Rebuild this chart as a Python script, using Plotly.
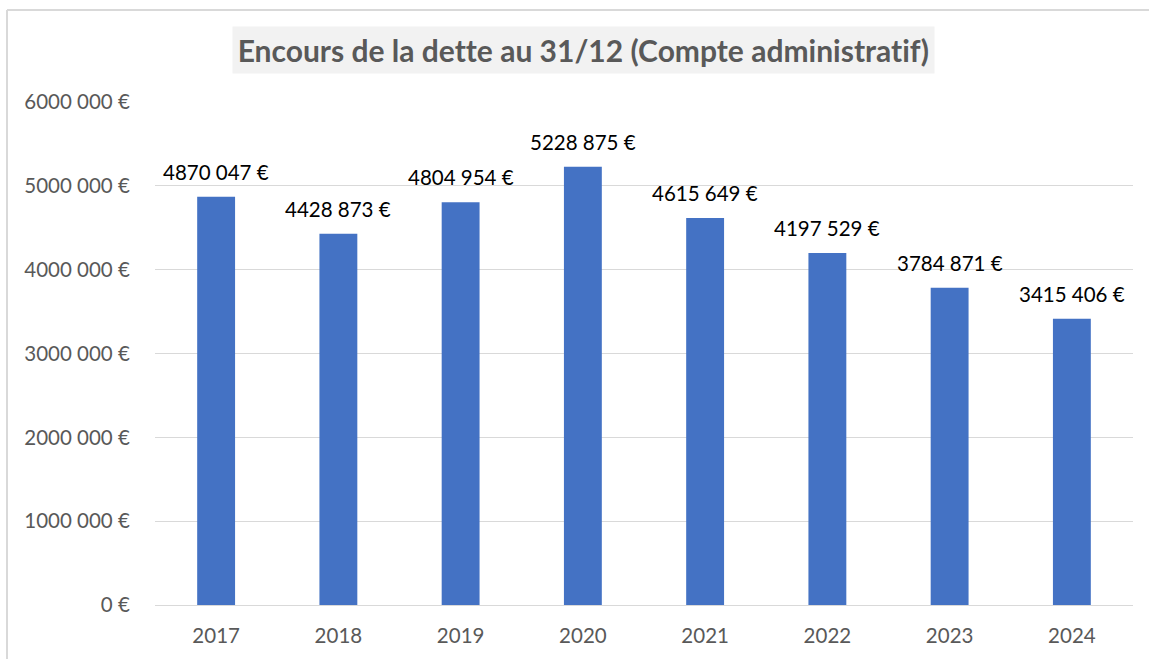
import plotly.graph_objects as go

years = ["2017", "2018", "2019", "2020", "2021", "2022", "2023", "2024"]
debt = [4870047, 4428873, 4804954, 5228875, 4615649, 4197529, 3784871, 3415406]
y_ticks = [0, 1000000, 2000000, 3000000, 4000000, 5000000, 6000000]
y_tick_labels = ["0 €", "1000 000 €", "2000 000 €", "3000 000 €", "4000 000 €", "5000 000 €", "6000 000 €"]
title_text = "Encours de la dette au 31/12 (Compte administratif)"


def fmt(v):
    if v >= 1000:
        return f"{v // 1000}\u00a0{v % 1000:03d}\u00a0€"
    return f"{v}\u00a0€"


W, H = 1149, 659
ML, MR, MT, MB = 155, 16, 102, 54
PW, PH = W - ML - MR, H - MT - MB


def px_x(x):
    return (x - ML) / PW


def px_y(y):
    return 1 - (y - MT) / PH


FONT = "Lato, 'Open Sans', sans-serif"

fig = go.Figure(
    go.Bar(
        x=years,
        y=debt,
        marker=dict(color="#4472C4", line=dict(width=0)),
        hoverinfo="x+y",
    )
)

for i, v in enumerate(debt):
    fig.add_annotation(
        x=i, y=v, xref="x", yref="y",
        text=fmt(v), showarrow=False,
        xanchor="center", yanchor="bottom", yshift=11,
        font=dict(family=FONT, size=20.5, color="#000000"),
    )

fig.update_layout(
    width=W,
    height=H,
    margin=dict(l=ML, r=MR, t=MT, b=MB),
    paper_bgcolor="white",
    plot_bgcolor="white",
    bargap=0.69,
    showlegend=False,
    font=dict(family=FONT),
)

fig.update_yaxes(
    range=[0, 6000000],
    tickvals=y_ticks,
    ticktext=y_tick_labels,
    tickfont=dict(family=FONT, size=20.5, color="#595959"),
    gridcolor="#d9d9d9",
    gridwidth=1,
    zeroline=True,
    zerolinecolor="#d9d9d9",
    zerolinewidth=1,
    showline=False,
    ticks="outside",
    ticklen=20,
    tickcolor="rgba(0,0,0,0)",
    fixedrange=True,
)

fig.update_xaxes(
    type="category",
    categoryorder="array",
    categoryarray=years,
    range=[-0.5, len(years) - 0.5],
    tickfont=dict(family=FONT, size=20.5, color="#595959"),
    showgrid=False,
    showline=False,
    ticks="outside",
    ticklen=12,
    tickcolor="rgba(0,0,0,0)",
    fixedrange=True,
)

# Title in grey box
fig.add_annotation(
    x=px_x(583.5), y=px_y(50), xref="paper", yref="paper",
    text=f"<b>{title_text}</b>",
    showarrow=False,
    font=dict(family=FONT, size=30, color="#595959"),
    bgcolor="#f2f2f2",
    borderpad=5,
    xanchor="center", yanchor="middle",
)

# Chart frame (left and top edges visible)
fig.add_shape(type="line", xref="paper", yref="paper",
              x0=px_x(7), x1=px_x(7), y0=px_y(670), y1=px_y(10),
              line=dict(color="#d9d9d9", width=2))
fig.add_shape(type="line", xref="paper", yref="paper",
              x0=px_x(7), x1=px_x(1160), y0=px_y(10), y1=px_y(10),
              line=dict(color="#d9d9d9", width=2))

fig.write_html(
    "out.html",
    config={"displayModeBar": False},
    post_script=(
        "document.body.style.margin='0';document.body.style.overflow='hidden';"
        "var s=document.createElement('style');"
        "s.textContent='svg text{font-variant-ligatures:none !important;font-feature-settings:\"liga\" 0, \"clig\" 0 !important;}';"
        "document.head.appendChild(s);"
    ),
)
